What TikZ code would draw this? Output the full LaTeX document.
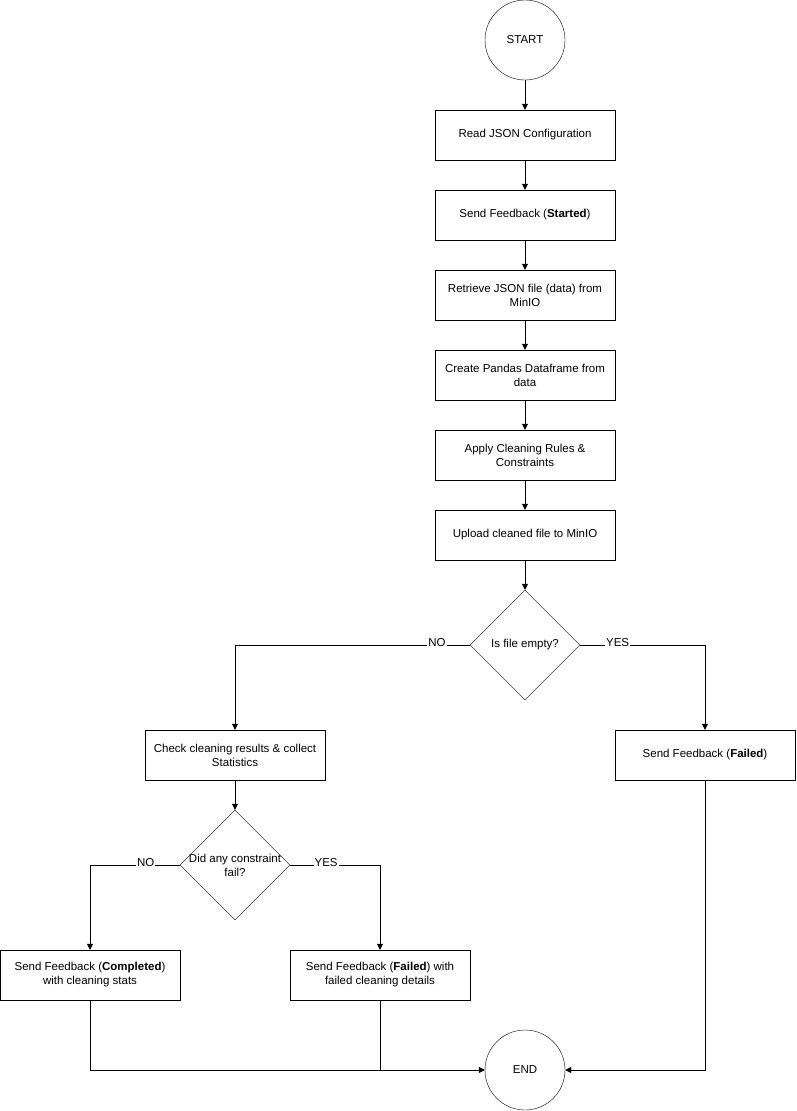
\documentclass[tikz,border=0pt]{standalone}
\usepackage{fontspec}
\setmainfont{Liberation Sans}
\usetikzlibrary{shapes.geometric,arrows.meta}

\begin{document}
\begin{tikzpicture}[x=1pt,y=-1pt,font=\fontsize{11.5}{14}\selectfont,
    box/.style={draw,rectangle,minimum width=180,minimum height=50,align=center,inner sep=2},
    term/.style={draw,circle,minimum size=80,inner sep=0},
    test/.style={draw,diamond,minimum size=110,inner sep=0},
    flow/.style={-{Triangle[length=6,width=6]}},
    lbl/.style={fill=white,inner sep=1}]
    \useasboundingbox (0,0) rectangle (796,1111);
    \begin{scope}
        \node[term] (start) at (525,40) {START};
        \node[box] (read) at (525,135) {Read JSON Configuration};
        \node[box] (started) at (525,215) {Send Feedback (\textbf{Started})};
        \node[box] (fetch) at (525,295) {Retrieve JSON file (data) from\\MinIO};
        \node[box] (frame) at (525,375) {Create Pandas Dataframe from\\data};
        \node[box] (clean) at (525,455) {Apply Cleaning Rules \&\\Constraints};
        \node[box] (upload) at (525,535) {Upload cleaned file to MinIO};
        \node[test] (empty) at (525,645) {};
        \node at (525,645) {Is file empty?};
        \node[box] (check) at (235,755) {Check cleaning results \& collect\\Statistics};
        \node[box] (failA) at (705,755) {Send Feedback (\textbf{Failed})};
        \node[test] (fail) at (235,865) {};
        \node[align=center] at (235,865) {Did any constraint\\fail?};
        \node[box] (done) at (90,975) {Send Feedback (\textbf{Completed})\\with cleaning stats};
        \node[box] (failB) at (380,975) {Send Feedback (\textbf{Failed}) with\\failed cleaning details};
        \node[term] (end) at (525,1070) {END};
    \end{scope}
    \begin{scope}
        \draw[flow] (start) -- (read);
        \draw[flow] (read) -- (started);
        \draw[flow] (started) -- (fetch);
        \draw[flow] (fetch) -- (frame);
        \draw[flow] (frame) -- (clean);
        \draw[flow] (clean) -- (upload);
        \draw[flow] (upload) -- (empty);

        \draw[flow] (empty.west) -- node[lbl,pos=0.14,above=-3] {NO} (235,645) -- (check);
        \draw[flow] (empty.east) -- node[lbl,pos=0.3,above=-3] {YES} (705,645) -- (failA);
        \draw[flow] (check) -- (fail);
        \draw[flow] (fail.west) -- node[lbl,pos=0.38,above=-3] {NO} (90,865) -- (done);
        \draw[flow] (fail.east) -- node[lbl,pos=0.4,above=-3] {YES} (380,865) -- (failB);

        \draw[flow] (done) |- (end);
        \draw (failB) -- (380,1070);
        \draw[flow] (failA) |- (end);
    \end{scope}
\end{tikzpicture}
\end{document}
